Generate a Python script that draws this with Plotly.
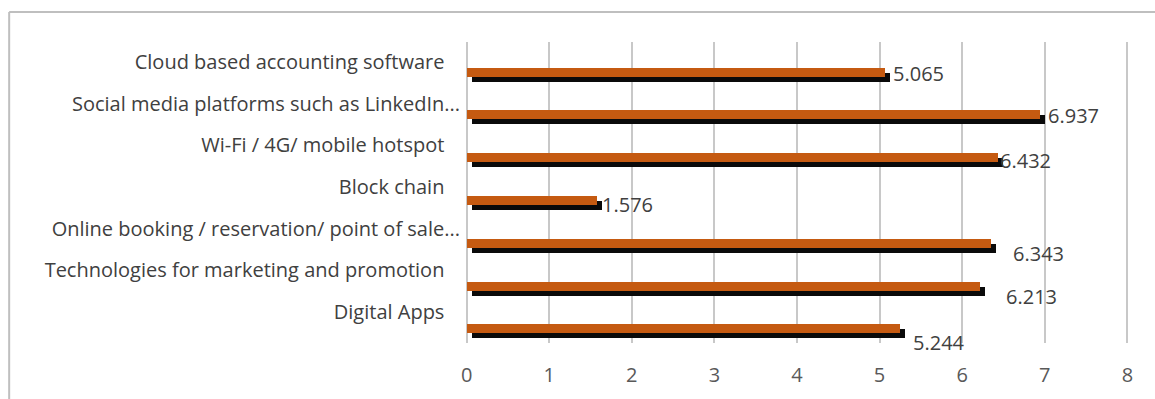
import plotly.graph_objects as go

# Survey results: mean score per technology
categories = [
    "Cloud based accounting software",
    "Social media platforms such as LinkedIn...",
    "Wi-Fi / 4G/ mobile hotspot",
    "Block chain",
    "Online booking / reservation/ point of sale...",
    "Technologies for marketing and promotion",
    "Digital Apps",
]
scores = [5.065, 6.937, 6.432, 1.576, 6.343, 6.213, 5.244]
x_ticks = [0, 1, 2, 3, 4, 5, 6, 7, 8]

FONT = "Open Sans"
FS = 20

# ---- layout geometry (pixels) ----
W, H = 1155, 399
px_x = 82.5                    # pixels per x unit
x0_px = 467.0                  # pixel position of x = 0
xpad = 0.02                    # small pad so the 0 and 8 gridlines are drawn
ML = x0_px - xpad * px_x
plot_w = (8 + 2 * xpad) * px_x
MR = W - ML - plot_w
MT, MB = 42, 56
plot_h = H - MT - MB
row_px = 41.67                 # spacing of category labels
label0 = 20.0                  # first label centre below plot top
y_top = -label0 / row_px
y_bot = (plot_h - label0) / row_px

bar_h = 9.0 / row_px
shadow_dx = 5.0 / px_x
shadow_dy = 5.0 / row_px
rows = list(range(len(categories)))
# bars sit a little below their labels, drifting with depth
centre_off = [(10.0 + 1.13 * i) / row_px for i in rows]
off_front = [c - bar_h / 2 for c in centre_off]
off_back = [o + shadow_dy for o in off_front]

# nudges for the value labels (pixels)
label_dx = [6, 6, 0, 3, 20, 24, 11]
label_dy = [1, 1, 3, 4, 10, 10, 14]

fig = go.Figure()

# dark shadow bar behind
fig.add_trace(go.Bar(
    y=rows, x=scores, base=shadow_dx, orientation="h",
    width=bar_h, offset=off_back,
    marker=dict(color="#0a0a0a", line=dict(width=0)),
    hoverinfo="skip", showlegend=False,
))
# orange front bar
fig.add_trace(go.Bar(
    y=rows, x=scores, base=0, orientation="h",
    width=bar_h, offset=off_front,
    marker=dict(color="#C55A11", line=dict(width=0)),
    showlegend=False,
))

for i, v in enumerate(scores):
    fig.add_annotation(
        x=v, y=i, xref="x", yref="y",
        text=f"{v:.3f}", showarrow=False,
        xanchor="left", yanchor="middle",
        xshift=label_dx[i],
        yshift=-(10.0 + 1.13 * i + label_dy[i]),
        font=dict(family=FONT, size=FS, color="#404040"),
    )

# tick labels: truncated ones are drawn slightly wider
ticktext = [c if c.endswith("...") else c + "\u00a0\u00a0\u00a0" for c in categories]

top_y = (plot_h + MT - 12) / plot_h
left_x = (10 - ML) / plot_w

fig.update_layout(
    width=W, height=H,
    margin=dict(l=ML, r=MR, t=MT, b=MB),
    paper_bgcolor="white", plot_bgcolor="white",
    barmode="overlay", bargap=0,
    font=dict(family=FONT, size=FS, color="#404040"),
    xaxis=dict(
        range=[-xpad, 8 + xpad], tickvals=x_ticks, ticktext=[str(t) for t in x_ticks],
        showgrid=True, gridcolor="#c8c8c8", gridwidth=2,
        zeroline=False, showline=False, ticks="",
        tickfont=dict(family=FONT, size=FS, color="#595959"),
        ticklabelstandoff=18,
    ),
    yaxis=dict(
        range=[y_bot, y_top], tickvals=rows, ticktext=ticktext,
        showgrid=False, zeroline=False, showline=False, ticks="",
        tickfont=dict(family=FONT, size=FS, color="#404040"),
        ticklabelstandoff=4,
    ),
    shapes=[
        dict(type="line", xref="paper", yref="paper",
             x0=left_x, x1=(W - ML) / plot_w, y0=top_y, y1=top_y,
             line=dict(color="#bfbfbf", width=2)),
        dict(type="line", xref="paper", yref="paper",
             x0=left_x, x1=left_x, y0=top_y, y1=-MB / plot_h,
             line=dict(color="#bfbfbf", width=2)),
    ],
)

fig.write_html("out.html")
